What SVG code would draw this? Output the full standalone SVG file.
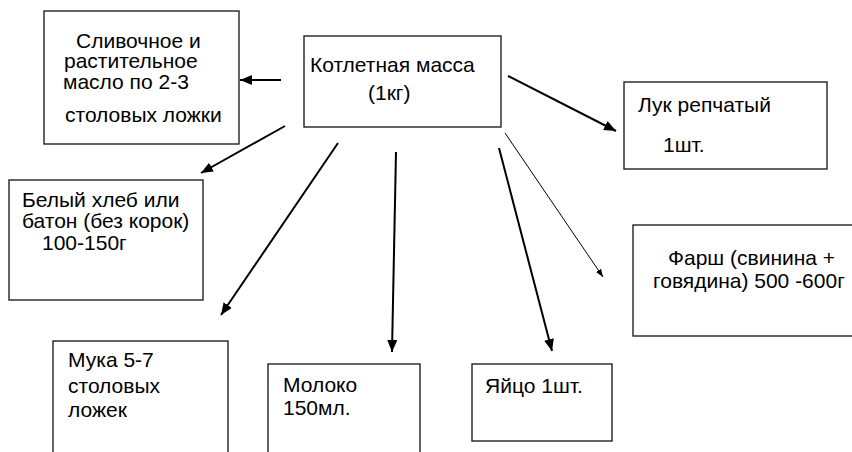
<svg xmlns="http://www.w3.org/2000/svg" width="852" height="452" viewBox="0 0 852 452">
<style>
.b{fill:#fff;stroke:#222;stroke-width:1.4}
text{font-family:"Liberation Sans",Arial,sans-serif;font-size:21px;fill:#000}
.c{stroke:#000;stroke-width:2;fill:none}
.t{stroke:#000;stroke-width:1;fill:none}
</style>
<defs>
<marker id="a" viewBox="0 0 12 10" refX="12" refY="5" markerWidth="12" markerHeight="10" markerUnits="userSpaceOnUse" orient="auto"><path d="M0,0L12,5L0,10z" fill="#000"/></marker>
<marker id="s" viewBox="0 0 8 6" refX="8" refY="3" markerWidth="8" markerHeight="6" markerUnits="userSpaceOnUse" orient="auto"><path d="M0,0L8,3L0,6z" fill="#000"/></marker>
</defs>
<rect x="0" y="0" width="852" height="452" fill="#fff"/>
<g id="n-center"><rect class="b" x="304" y="36" width="197" height="91"/><text x="310" y="72">Котлетная масса</text><text x="368" y="100">(1кг)</text></g>
<g id="n-butter"><rect class="b" x="44" y="11" width="195" height="133"/><text x="76" y="48">Сливочное и</text><text x="64" y="68">растительное</text><text x="63" y="89">масло по 2-3</text><text x="65" y="122">столовых ложки</text></g>
<g id="n-bread"><rect class="b" x="9" y="180" width="194" height="120"/><text x="22" y="207">Белый хлеб или</text><text x="22" y="228">батон (без корок)</text><text x="42" y="250">100-150г</text></g>
<g id="n-onion"><rect class="b" x="624" y="82" width="203" height="87"/><text x="638" y="112">Лук репчатый</text><text x="663" y="152">1шт.</text></g>
<g id="n-mince"><rect class="b" x="633" y="225" width="230" height="111"/><text x="668" y="265">Фарш (свинина +</text><text x="653" y="288">говядина) 500 -600г</text></g>
<g id="n-flour"><rect class="b" x="53" y="341" width="175" height="120"/><text x="68" y="367">Мука 5-7</text><text x="68" y="393">столовых</text><text x="68" y="417">ложек</text></g>
<g id="n-milk"><rect class="b" x="268" y="364" width="152" height="100"/><text x="283" y="392">Молоко</text><text x="283" y="415">150мл.</text></g>
<g id="n-egg"><rect class="b" x="472" y="364" width="140" height="77"/><text x="485" y="393">Яйцо 1шт.</text></g>
<g id="connectors">
<line class="c" x1="281" y1="80" x2="240" y2="80" marker-end="url(#a)"/>
<line class="c" x1="285" y1="126" x2="201" y2="173" marker-end="url(#a)"/>
<line class="c" x1="338" y1="143" x2="221" y2="315" marker-end="url(#a)"/>
<line class="c" x1="396" y1="152" x2="392" y2="352" marker-end="url(#a)"/>
<line class="c" x1="499" y1="148" x2="552" y2="351" marker-end="url(#a)"/>
<line class="t" x1="505" y1="133" x2="603" y2="277" marker-end="url(#s)"/>
<line class="c" x1="508" y1="76" x2="616" y2="131" marker-end="url(#a)"/>
</g>
</svg>
